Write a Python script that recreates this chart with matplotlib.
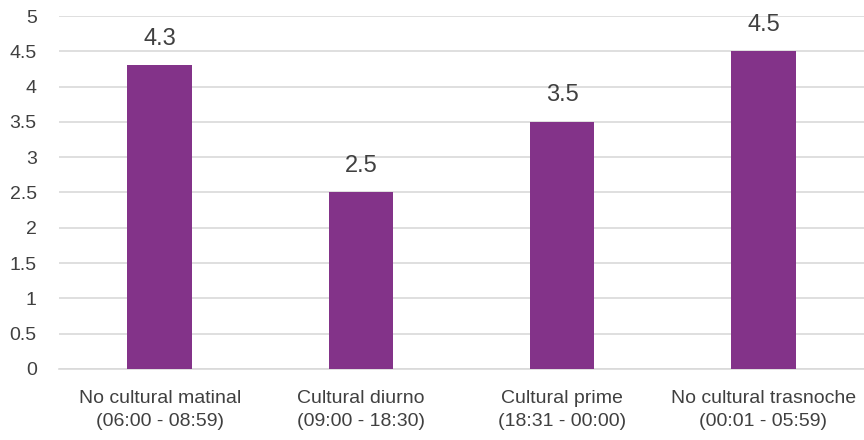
import matplotlib
matplotlib.use('Agg')
import matplotlib.pyplot as plt
import numpy as np

# chart data
categories = ['No cultural matinal\n(06:00 - 08:59)', 'Cultural diurno\n(09:00 - 18:30)',
              'Cultural prime\n(18:31 - 00:00)', 'No cultural trasnoche\n(00:01 - 05:59)']
values = [4.3, 2.5, 3.5, 4.5]
yticks = [0, 0.5, 1, 1.5, 2, 2.5, 3, 3.5, 4, 4.5, 5]
ytick_labels = ['0', '0.5', '1', '1.5', '2', '2.5', '3', '3.5', '4', '4.5', '5']

plt.rcParams['font.family'] = ['Liberation Sans Narrow', 'Liberation Sans', 'DejaVu Sans']
text_color = '#404040'

fig = plt.figure(figsize=(8.64, 4.4), dpi=100)
ax = fig.add_axes([0.0683, 0.1614, 0.9317, 0.8022])

x = np.arange(len(categories))
ax.bar(x, values, width=0.32, color='#833389', zorder=3)

# value labels above bars
for xi, v in zip(x, values):
    ax.text(xi, v + 0.22, str(v), ha='center', va='bottom', fontsize=17, color=text_color)

ax.set_xlim(-0.5, len(categories) - 0.5)
ax.set_ylim(0, 5)
ax.set_yticks(yticks)
ax.set_yticklabels(ytick_labels, fontsize=14, color=text_color)
ax.set_xticks(x)
ax.set_xticklabels(categories, fontsize=14, color=text_color, linespacing=1.45)

ax.grid(axis='y', color='#d9d9d9', linewidth=1.2, zorder=0)
for s in ['top', 'right', 'left']:
    ax.spines[s].set_visible(False)
ax.spines['bottom'].set_color('#d9d9d9')
ax.spines['bottom'].set_linewidth(1.2)
ax.tick_params(axis='both', length=0)
ax.tick_params(axis='y', pad=16)
ax.tick_params(axis='x', pad=15)

fig.savefig('out.png', dpi=100)
